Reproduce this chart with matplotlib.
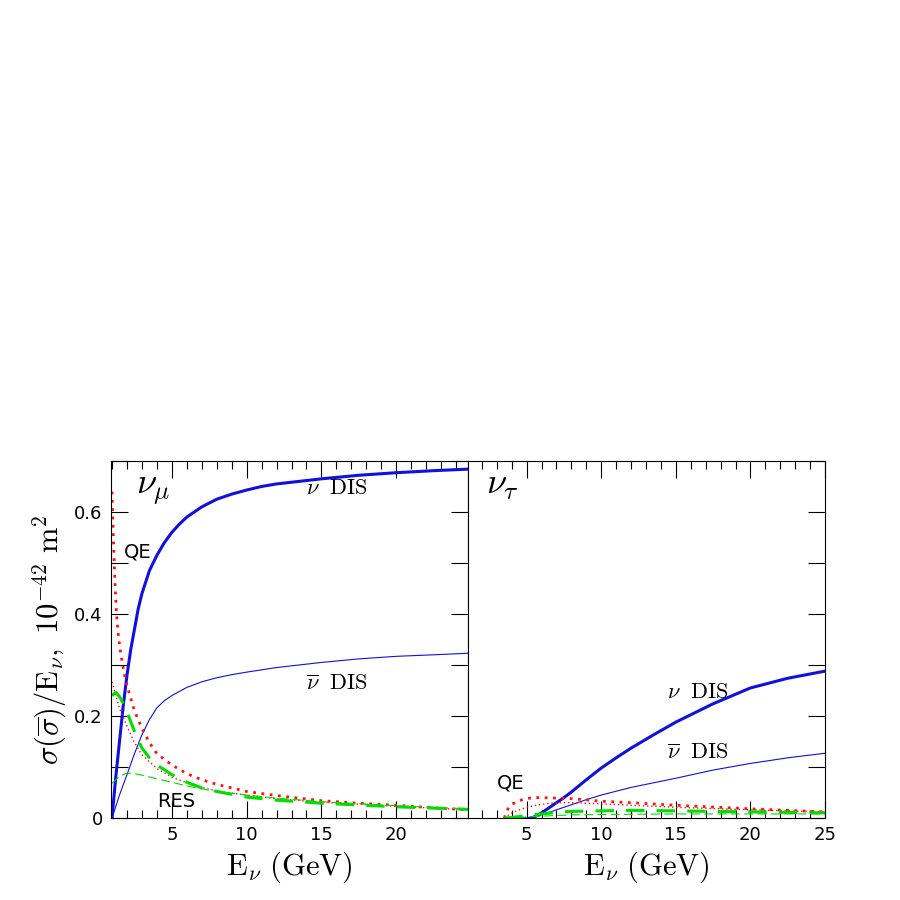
import matplotlib
matplotlib.use("Agg")
import matplotlib.pyplot as plt
from matplotlib.ticker import MultipleLocator, FixedLocator

plt.rcParams['mathtext.fontset'] = 'cm'

# ---- nu_mu panel ----
mu_dis_nu_E = [1, 1.25, 1.5, 1.75, 2, 2.25, 2.5, 2.75, 3, 3.5, 4, 4.5, 5, 5.5, 6, 7, 8, 9, 10, 11, 12, 13.5, 15, 17.5, 20, 22.5, 24.8]
mu_dis_nu = [0, 0.08, 0.15, 0.22, 0.28, 0.33, 0.37, 0.41, 0.44, 0.485, 0.515, 0.54, 0.56, 0.576, 0.59, 0.61, 0.625, 0.635, 0.643, 0.65, 0.655, 0.66, 0.665, 0.672, 0.677, 0.681, 0.684]
mu_dis_nb_E = [1, 1.5, 2, 2.5, 3, 3.5, 4, 4.5, 5, 6, 7, 8, 9, 10, 12, 15, 17.5, 20, 22.5, 24.8]
mu_dis_nb = [0, 0.045, 0.085, 0.126, 0.163, 0.193, 0.216, 0.23, 0.24, 0.256, 0.267, 0.275, 0.281, 0.286, 0.295, 0.305, 0.312, 0.317, 0.320, 0.323]
mu_qe_nu_E = [1, 1.1, 1.2, 1.3, 1.45, 1.6, 1.8, 2, 2.5, 3, 3.5, 4, 5, 6, 7, 8, 10, 12, 15, 17.5, 20, 22.5, 24.8]
mu_qe_nu = [0.64, 0.54, 0.46, 0.40, 0.35, 0.32, 0.285, 0.26, 0.21, 0.176, 0.148, 0.126, 0.104, 0.087, 0.075, 0.066, 0.052, 0.044, 0.034, 0.029, 0.025, 0.02, 0.016]
mu_qe_nb_E = [1, 1.5, 2, 2.5, 3, 4, 5, 6, 7, 8, 10, 12, 15, 20, 24.8]
mu_qe_nb = [0.267, 0.215, 0.18, 0.148, 0.124, 0.097, 0.08, 0.069, 0.06, 0.053, 0.045, 0.038, 0.031, 0.023, 0.016]
mu_res_nu_E = [1, 1.25, 1.5, 1.75, 2, 2.5, 3, 3.5, 4, 5, 6, 7, 8, 10, 12, 15, 20, 24.8]
mu_res_nu = [0.24, 0.246, 0.238, 0.225, 0.208, 0.17, 0.137, 0.118, 0.104, 0.085, 0.07, 0.059, 0.052, 0.041, 0.035, 0.029, 0.022, 0.017]
mu_res_nb_E = [1, 1.5, 2, 2.5, 3, 4, 5, 6, 7, 8, 10, 12, 15, 20, 24.8]
mu_res_nb = [0.068, 0.082, 0.088, 0.087, 0.084, 0.077, 0.07, 0.063, 0.057, 0.052, 0.045, 0.039, 0.032, 0.024, 0.018]

# ---- nu_tau panel ----
tau_dis_nu_E = [4.5, 5, 5.5, 6, 6.5, 7, 7.5, 8, 9, 10, 11, 12, 13.5, 15, 17.5, 20, 22.5, 25]
tau_dis_nu = [0, -0.002, 0.002, 0.01, 0.02, 0.03, 0.04, 0.051, 0.075, 0.098, 0.118, 0.137, 0.163, 0.188, 0.224, 0.255, 0.274, 0.288]
tau_dis_nb_E = [4.5, 5, 6, 7, 8, 9, 10, 12, 15, 17.5, 20, 22.5, 25]
tau_dis_nb = [0, -0.001, 0.006, 0.016, 0.026, 0.036, 0.045, 0.06, 0.078, 0.094, 0.107, 0.118, 0.127]
tau_qe_nu_E = [3.5, 3.75, 4, 4.5, 5, 5.5, 6, 7, 8, 10, 12, 15, 20, 25]
tau_qe_nu = [0.0, 0.018, 0.027, 0.034, 0.038, 0.04, 0.04, 0.039, 0.038, 0.033, 0.03, 0.025, 0.018, 0.012]
tau_qe_nb_E = [3.5, 4, 4.5, 5, 6, 7, 8, 9, 12, 15, 20, 25]
tau_qe_nb = [0.0, 0.01, 0.016, 0.021, 0.027, 0.03, 0.03, 0.029, 0.025, 0.021, 0.016, 0.012]
tau_res_nu_E = [3.5, 4, 5, 6, 7, 8, 10, 12, 15, 20, 25]
tau_res_nu = [0.0, 0.001, 0.005, 0.008, 0.011, 0.013, 0.014, 0.015, 0.014, 0.012, 0.01]
tau_res_nb_E = [3.5, 4, 5, 6, 7, 8, 10, 15, 20, 25]
tau_res_nb = [0.0, 0.0005, 0.002, 0.0035, 0.005, 0.006, 0.007, 0.008, 0.008, 0.008]

blue = '#1010e0'
red = '#ff1010'
green = '#00dd00'

fig = plt.figure(figsize=(9, 9), dpi=100)
ax1 = fig.add_axes([0.1233, 0.0911, 0.3967, 0.3967])
ax2 = fig.add_axes([0.52, 0.0911, 0.3967, 0.3967])

def style(ax, xlim, xticks):
    ax.set_xlim(*xlim)
    ax.set_ylim(0, 0.7)
    ax.xaxis.set_major_locator(FixedLocator(xticks))
    ax.xaxis.set_minor_locator(MultipleLocator(1))
    ax.yaxis.set_major_locator(MultipleLocator(0.1))
    ax.tick_params(which='both', direction='in', top=True, right=True, labelsize=13, pad=6)
    ax.tick_params(which='major', length=12, width=0.8)
    ax.tick_params(which='minor', length=6, width=0.8)
    for s in ax.spines.values():
        s.set_linewidth(0.8)
    ax.set_xlabel(r'$\mathrm{E}_{\nu}\ \mathrm{(GeV)}$', fontsize=22)

def draw(ax, d):
    (dn_E, dn, db_E, db, qn_E, qn, qb_E, qb, rn_E, rn, rb_E, rb) = d
    ax.plot(dn_E, dn, color=blue, lw=2.2)
    ax.plot(db_E, db, color=blue, lw=0.8)
    ax.plot(qn_E, qn, color=red, lw=2.0, ls=(0, (1, 2)))
    ax.plot(qb_E, qb, color=red, lw=1.0, ls=(0, (1, 2)))
    ax.plot(rn_E, rn, color=green, lw=2.2, ls=(0, (6, 4)))
    ax.plot(rb_E, rb, color=green, lw=0.8, ls=(0, (8, 4)))

draw(ax1, (mu_dis_nu_E, mu_dis_nu, mu_dis_nb_E, mu_dis_nb, mu_qe_nu_E, mu_qe_nu,
           mu_qe_nb_E, mu_qe_nb, mu_res_nu_E, mu_res_nu, mu_res_nb_E, mu_res_nb))
draw(ax2, (tau_dis_nu_E, tau_dis_nu, tau_dis_nb_E, tau_dis_nb, tau_qe_nu_E, tau_qe_nu,
           tau_qe_nb_E, tau_qe_nb, tau_res_nu_E, tau_res_nu, tau_res_nb_E, tau_res_nb))

style(ax1, (0.93, 24.8), [5, 10, 15, 20])
style(ax2, (1.07, 25), [5, 10, 15, 20, 25])
ax1.yaxis.set_major_formatter(plt.FuncFormatter(lambda v, p: ('0' if abs(v) < 1e-9 else f'{v:.1f}') if round(v*10) % 2 == 0 else ''))
ax2.tick_params(axis='y', which='both', left=False, labelleft=False)
ax1.set_ylabel(r'$\sigma(\overline{\sigma})/\mathrm{E}_{\nu},\ \mathrm{10}^{-42}\ \mathrm{m}^{2}$', fontsize=22)

ax1.text(2.6, 0.635, r'$\nu_{\mu}$', fontsize=26)
ax1.text(1.8, 0.51, 'QE', fontsize=14)
ax1.text(4.0, 0.022, 'RES', fontsize=14)
ax1.text(14.0, 0.635, r'$\nu\ \ \mathrm{DIS}$', fontsize=16)
ax1.text(14.0, 0.25, r'$\overline{\nu}\ \ \mathrm{DIS}$', fontsize=16)

ax2.text(2.3, 0.635, r'$\nu_{\tau}$', fontsize=26)
ax2.text(3.0, 0.057, 'QE', fontsize=14)
ax2.text(14.4, 0.235, r'$\nu\ \ \mathrm{DIS}$', fontsize=16)
ax2.text(14.4, 0.115, r'$\overline{\nu}\ \ \mathrm{DIS}$', fontsize=16)

fig.savefig('out.png', dpi=100)
